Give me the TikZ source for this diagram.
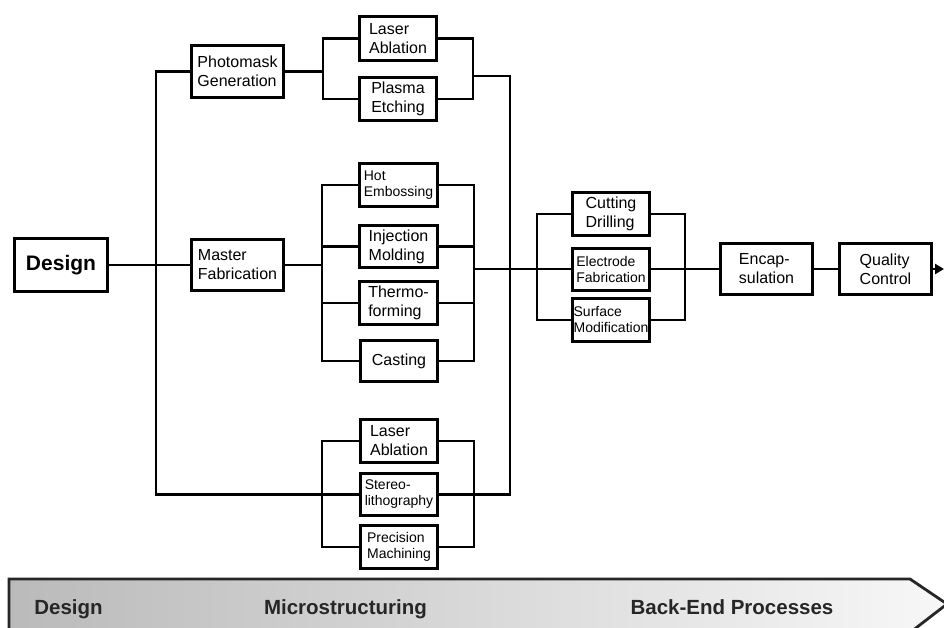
\documentclass[tikz,border=0pt]{standalone}
\usepackage{fontspec}
\setmainfont{Liberation Sans}
\usetikzlibrary{arrows.meta}
\begin{document}
\begin{tikzpicture}[x=1pt,y=-1pt,
  box/.style={draw=black, line width=3pt, fill=white, inner sep=1pt, align=left, font=\fontsize{16}{19}\selectfont},
  sbox/.style={box, font=\fontsize{14}{16}\selectfont},
  wire/.style={line width=2.6pt, line join=miter, line cap=rect},
  bandlbl/.style={font=\fontsize{20.5}{24}\selectfont\bfseries, text=black!85, inner sep=0pt, anchor=base}]
\useasboundingbox (0,0) rectangle (944,628);

% ---- bottom band ----
\begin{scope}
\clip (0,0) rectangle (944,628);
\path[left color=black!27, right color=black!3, draw=black!85, line width=2.8pt]
  (9,579) -- (910,579) -- (947,604) -- (912,631) -- (9,631) -- cycle;
\end{scope}
\node[bandlbl] (b1) at (68.5,614) {Design};
\node[bandlbl] (b2) at (345.5,614) {Microstructuring};
\node[bandlbl] (b3) at (732,614) {Back-End Processes};

% ---- boxes ----
\node[box, minimum width=93, minimum height=52] (design) at (61,265) {\fontsize{21}{24}\selectfont\bfseries Design};
\node[box, minimum width=92, minimum height=52] (photo) at (237.5,71.5) {Photomask\\Generation};
\node[box, minimum width=92, minimum height=51] (master) at (237.5,265) {Master\\Fabrication};

\node[box, minimum width=77, minimum height=44] (la1) at (398,38.5) {Laser\\Ablation};
\node[box, minimum width=77, minimum height=43] (pe) at (398,99) {Plasma\\Etching};

\node[sbox, minimum width=78, minimum height=43] (he) at (398.5,185) {Hot\\Embossing};
\node[box, minimum width=78, minimum height=42] (im) at (398.5,246.5) {Injection\\Molding};
\node[box, minimum width=78, minimum height=43] (tf) at (398.5,303) {Thermo-\\forming};
\node[box, minimum width=77, minimum height=41] (ca) at (399,361) {Casting};

\node[box, minimum width=77, minimum height=43] (la2) at (399,441) {Laser\\Ablation};
\node[sbox, minimum width=77, minimum height=42] (sl) at (399,494.5) {Stereo-\\lithography};
\node[sbox, minimum width=77, minimum height=43] (pm) at (399,547) {Precision\\Machining};

\node[box, minimum width=77, minimum height=43] (cd) at (611,214) {Cutting\\Drilling};
\node[sbox, minimum width=77, minimum height=42] (ef) at (611,269) {Electrode\\Fabrication};
\node[sbox, minimum width=77, minimum height=43] (sm) at (611,320) {Surface\\Modification};

\node[box, minimum width=92, minimum height=50] (enc) at (766.5,269) {Encap-\\sulation};
\node[box, minimum width=92, minimum height=50] (qc) at (885.5,269) {Quality\\Control};

% ---- connectors ----
\coordinate (sA) at (156,265);
\draw[wire] (design.east) -- (master.west);
\draw[wire] (photo.west) -| (sA) |- (sl.west);

\coordinate (pL) at (323,71.5);
\draw[wire] (photo.east) -- (pL);
\draw[wire] (la1.west) -| (pL) |- (pe.west);
\coordinate (pR) at (473,76);
\draw[wire] (la1.east) -| (pR) |- (pe.east);
\coordinate (col) at (510,76);
\draw[wire] (pR) -- (col) |- (sl.east);

\coordinate (mL) at (322,265);
\draw[wire] (master.east) -- (mL);
\draw[wire] (he.west) -| (mL) |- (ca.west);
\draw[wire] (im.west) -- (im.west -| mL);
\draw[wire] (tf.west) -- (tf.west -| mL);
\coordinate (mR) at (474,269);
\draw[wire] (he.east) -| (mR) |- (ca.east);
\draw[wire] (im.east) -- (im.east -| mR);
\draw[wire] (tf.east) -- (tf.east -| mR);

\coordinate (bL) at (537,269);
\draw[wire] (mR) -- (bL);
\draw[wire] (cd.west) -| (bL) |- (sm.west);
\draw[wire] (ef.west) -- (bL);
\coordinate (bR) at (685,269);
\draw[wire] (cd.east) -| (bR) |- (sm.east);
\draw[wire] (ef.east) -- (bR) -- (enc.west);
\draw[wire] (enc.east) -- (qc.west);
\coordinate (out) at (944,269);
\draw[wire, line cap=butt, -{Triangle[length=9pt,width=10pt]}] (qc.east) -- (out);

\coordinate (lL) at (322,494.5);
\draw[wire] (la2.west) -| (lL) |- (pm.west);
\coordinate (lR) at (474,494.5);
\draw[wire] (la2.east) -| (lR) |- (pm.east);
\end{tikzpicture}
\end{document}
